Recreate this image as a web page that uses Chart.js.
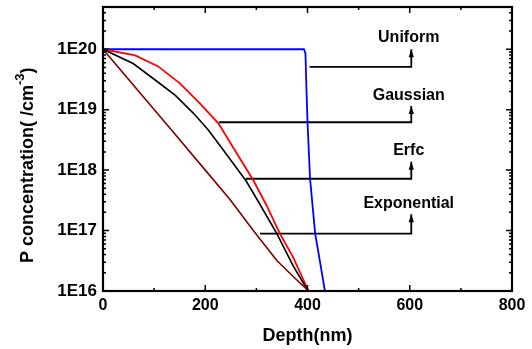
<!DOCTYPE html>
<html>
<head>
  <meta charset="utf-8" />
  <script src="https://cdn.jsdelivr.net/npm/chart.js@4"></script>
  <style>
    body { margin: 0; background: #fff; }
    #wrap { width: 532px; height: 349px; }
  </style>
</head>
<body>
  <div id="wrap"><canvas id="chart-profile"></canvas></div>
<script>
  // profiles (depth in nm, concentration in /cm^3)
  var uniformDepth = [0, 393, 396, 398, 400, 405, 415, 424, 434];
  var uniformConc = [1e20, 1e20, 8.5e19, 2.1e19, 6.3e18, 7.2e17, 8.9e16, 3.2e16, 1e16];

  var gaussDepth = [0, 63, 108, 151, 190, 226, 260, 294, 320, 346, 372, 402];
  var gaussConc = [1e20, 7.9e19, 5.2e19, 2.7e19, 1.26e19, 5.9e18, 2.0e18, 6.8e17, 2.6e17, 8.9e16, 3.6e16, 1e16];

  var erfcDepth = [0, 59, 102, 141, 177, 206, 240, 280, 304, 340, 372, 401];
  var erfcConc = [1e20, 5.8e19, 3.1e19, 1.74e19, 8.7e18, 4.6e18, 1.9e18, 6.6e17, 3.0e17, 8.9e16, 2.6e16, 1e16];

  var expDepth = [0, 134, 200, 248, 294, 340, 372, 402];
  var expConc = [1e20, 4.6e18, 1e18, 3.3e17, 1e17, 3.2e16, 1.74e16, 1e16];

  // callout labels: text, where the leader starts, leader height, arrow tip, text baseline
  var calloutNames = ['Uniform', 'Gaussian', 'Erfc', 'Exponential'];
  var calloutStart = [404, 227, 279, 307];
  var calloutLevel = [5.1e19, 6.2e18, 7.2e17, 8.9e16];
  var calloutTip = [1e20, 1.15e19, 1.38e18, 1.86e17];
  var calloutText = [1.32e20, 1.44e19, 1.78e18, 2.35e17];
  var calloutX = 603;
  var calloutTextX = 598;

  // axes
  var xMajor = [0, 200, 400, 600, 800];
  var xMinor = [100, 300, 500, 700];
  var yDecades = [1e16, 1e17, 1e18, 1e19, 1e20];
  var yMin = 1e16, yMax = 5e20;

  var FONT = "'Liberation Sans', Arial, sans-serif";
  Chart.defaults.font.family = FONT;
  Chart.defaults.color = '#000';

  function pts(xs, ys) {
    return xs.map(function (x, i) { return { x: x, y: ys[i] }; });
  }

  function curve(label, xs, ys, color, w) {
    return {
      label: label, data: pts(xs, ys), borderColor: color, borderWidth: w,
      pointRadius: 0, fill: false, tension: 0
    };
  }

  var datasets = [
    curve('Exponential', expDepth, expConc, '#800000', 1.6),
    curve('Erfc', erfcDepth, erfcConc, '#000000', 1.6),
    curve('Gaussian', gaussDepth, gaussConc, '#ff0000', 1.8),
    curve('Uniform', uniformDepth, uniformConc, '#0000ff', 1.8)
  ];
  calloutNames.forEach(function (n, i) {
    datasets.push({
      label: 'callout-' + n,
      data: [
        { x: calloutStart[i], y: calloutLevel[i] },
        { x: calloutX, y: calloutLevel[i] },
        { x: calloutX, y: calloutTip[i] }
      ],
      borderColor: '#000', borderWidth: 1.8, pointRadius: 0, fill: false, tension: 0
    });
  });

  // frame, inward ticks, axis titles and callout text
  var decor = {
    id: 'decor',
    afterDraw: function (chart) {
      var c = chart.ctx, a = chart.chartArea;
      var xs = chart.scales.x, ys = chart.scales.y;
      c.save();
      c.strokeStyle = '#000';
      c.lineWidth = 1.5;
      c.beginPath();
      function tickX(v, len) {
        var px = xs.getPixelForValue(v);
        c.moveTo(px, a.bottom); c.lineTo(px, a.bottom - len);
        c.moveTo(px, a.top); c.lineTo(px, a.top + len);
      }
      function tickY(v, len) {
        var py = ys.getPixelForValue(v);
        c.moveTo(a.left, py); c.lineTo(a.left + len, py);
        c.moveTo(a.right, py); c.lineTo(a.right - len, py);
      }
      xMajor.forEach(function (v) { tickX(v, 6); });
      xMinor.forEach(function (v) { tickX(v, 3); });
      yDecades.forEach(function (d) {
        tickY(d, 6);
        for (var m = 2; m <= 9; m++) {
          if (d * m <= yMax * 1.0001) tickY(d * m, 3);
        }
      });
      c.stroke();

      c.lineWidth = 2.2;
      c.strokeRect(a.left, a.top, a.right - a.left, a.bottom - a.top);

      // arrow heads at the tips of the callout leaders
      c.fillStyle = '#000';
      chart.data.datasets.forEach(function (ds, i) {
        if (ds.label.indexOf('callout-') !== 0) return;
        var el = chart.getDatasetMeta(i).data[2];
        c.beginPath();
        c.moveTo(el.x, el.y);
        c.lineTo(el.x - 2.6, el.y + 8);
        c.lineTo(el.x + 2.6, el.y + 8);
        c.closePath();
        c.fill();
      });

      // callout text
      c.font = 'bold 16px ' + FONT;
      c.textAlign = 'center';
      c.textBaseline = 'alphabetic';
      calloutNames.forEach(function (n, i) {
        c.fillText(n, xs.getPixelForValue(calloutTextX), ys.getPixelForValue(calloutText[i]));
      });

      // x title
      c.font = 'bold 18px ' + FONT;
      c.fillText('Depth(nm)', (a.left + a.right) / 2, 341);

      // y title with superscript
      c.translate(33, 263);
      c.rotate(-Math.PI / 2);
      c.textAlign = 'left';
      var main = 'P concentration( /cm';
      c.font = 'bold 18px ' + FONT;
      c.fillText(main, 0, 0);
      var w = c.measureText(main).width;
      c.font = 'bold 13px ' + FONT;
      c.fillText('-3', w, -9);
      var w2 = c.measureText('-3').width;
      c.font = 'bold 18px ' + FONT;
      c.fillText(')', w + w2, 0);
      c.restore();
    }
  };

  var chart = new Chart(document.getElementById('chart-profile'), {
    type: 'line',
    data: { datasets: datasets },
    options: {
      responsive: true,
      maintainAspectRatio: false,
      animation: false,
      layout: { padding: { left: 0, right: 20, top: 7, bottom: 0 } },
      plugins: { legend: { display: false }, tooltip: { enabled: false } },
      scales: {
        x: {
          type: 'linear', min: 0, max: 800,
          grid: { display: false, drawTicks: false },
          border: { display: false },
          ticks: { stepSize: 200, padding: 5, maxRotation: 0, font: { size: 16, weight: 'bold' } },
          afterFit: function (s) { s.height = 58; s.paddingLeft = 0; s.paddingRight = 0; }
        },
        y: {
          type: 'logarithmic', min: yMin, max: yMax,
          grid: { display: false, drawTicks: false },
          border: { display: false },
          afterBuildTicks: function (s) {
            s.ticks = yDecades.map(function (v) { return { value: v }; });
          },
          ticks: {
            padding: 6, autoSkip: false, font: { size: 17, weight: 'bold' },
            callback: function (v) { return '1E' + Math.round(Math.log10(v)); }
          },
          afterFit: function (s) { s.width = 103; s.paddingTop = 0; s.paddingBottom = 0; }
        }
      }
    },
    plugins: [decor]
  });
</script>
</body>
</html>
